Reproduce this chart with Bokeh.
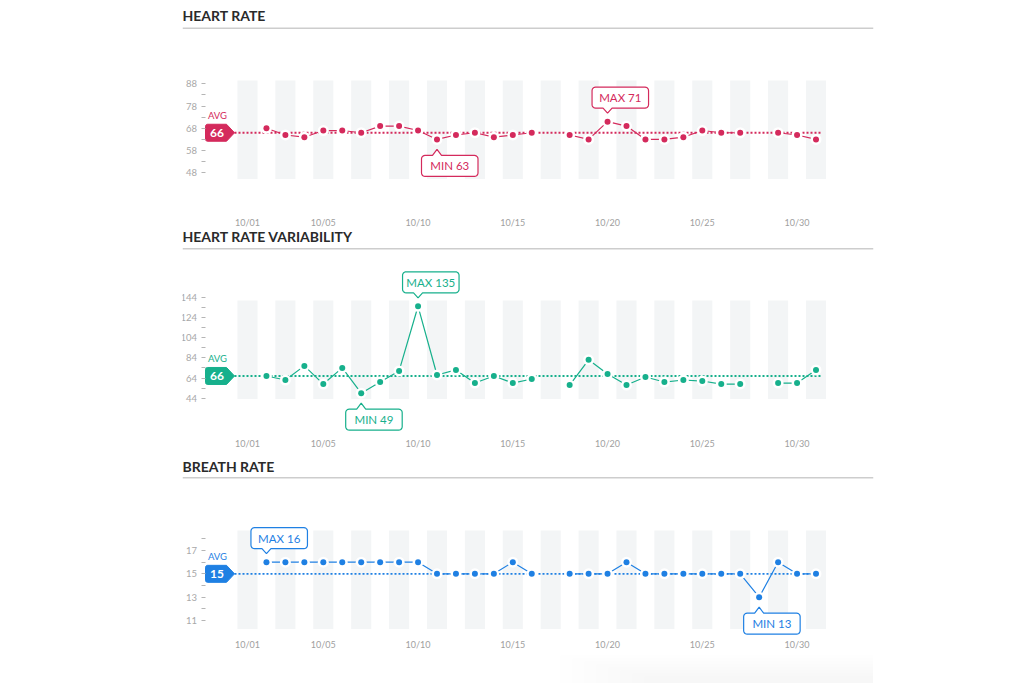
import numpy as np
from bokeh.plotting import figure
from bokeh.layouts import column
from bokeh.models import FixedTicker, Span
from bokeh.core.properties import value
from bokeh.embed import file_html
from bokeh.resources import INLINE

nan = float("nan")

# ---------------- data ----------------
days = list(range(1, 32))
date_ticks = [1, 5, 10, 15, 20, 25, 30]
date_tick_labels = ["10/01", "10/05", "10/10", "10/15", "10/20", "10/25", "10/30"]

heart_rate = [nan, 68, 65, 64, 67, 67, 66, 69, 69, 67, 63, 65, 66, 64, 65, 66,
              nan, 65, 63, 71, 69, 63, 63, 64, 67, 66, 66, nan, 66, 65, 63]
heart_rate_avg = 66
hr_ticks = [48, 58, 68, 78, 88]
hr_minor_ticks = [53, 63, 73, 83]

hrv = [nan, 66, 62, 76, 58, 74, 49, 60, 71, 135, 67, 72, 59, 66, 59, 63,
       nan, 57, 82, 68, 57, 65, 60, 62, 61, 58, 58, nan, 59, 59, 72]
hrv_avg = 66
hrv_ticks = [44, 64, 84, 104, 124, 144]
hrv_minor_ticks = [54, 74, 94, 114, 134]

breath_rate = [nan, 16, 16, 16, 16, 16, 16, 16, 16, 16, 15, 15, 15, 15, 16, 15,
               nan, 15, 15, 15, 16, 15, 15, 15, 15, 15, 15, 13, 16, 15, 15]
breath_rate_avg = 15
br_ticks = [11, 13, 15, 17]
br_minor_ticks = [12, 14, 16, 18]

stripe_days = days[::2]

# ---------------- layout constants (pixels) ----------------
FIG_W = 1024
FRAME_L, FRAME_R = 182, 873
DAY1_PX = 247.0
PX_PER_DAY = 18.95
FONT = "Lato"


def xd(px):
    return 1 + (px - DAY1_PX) / PX_PER_DAY


def day_px(d):
    return DAY1_PX + (d - 1) * PX_PER_DAY


def rounded_poly(left, right, top, bottom, r, pointer=None, rl=True, rr=True):
    pts = []

    def arc(cx, cy, a0, a1, rad):
        for t in np.linspace(a0, a1, 6):
            pts.append((cx + rad * np.cos(t), cy + rad * np.sin(t)))

    if rl:
        arc(left + r, top + r, np.pi, 1.5 * np.pi, r)
    else:
        pts.append((left, top))
    if pointer and pointer[0] == "top":
        _, px, hw, tip = pointer
        pts += [(px - hw, top), (px, tip), (px + hw, top)]
    if rr:
        arc(right - r, top + r, 1.5 * np.pi, 2 * np.pi, r)
        arc(right - r, bottom - r, 0, 0.5 * np.pi, r)
    else:
        pts.append((right, top))
        pts.append((right, bottom))
    if pointer and pointer[0] == "bottom":
        _, px, hw, tip = pointer
        pts += [(px + hw, bottom), (px, tip), (px - hw, bottom)]
    if rl:
        arc(left + r, bottom - r, 0.5 * np.pi, np.pi, r)
    else:
        pts.append((left, bottom))
    return pts


def make_panel(title, vals, avg, color, majors, minors, top, height,
               ref_val, ref_px, ppu, title_px, rule_px, stripe_top, label_px,
               shadow=False):
    def yv(py):
        return ref_val - (py - ref_px) / ppu

    def ypx(v):
        return ref_px + (ref_val - v) * ppu

    p = figure(width=FIG_W, height=height,
               x_range=(xd(FRAME_L), xd(FRAME_R)),
               y_range=(yv(top + height), yv(top)),
               output_backend="svg", toolbar_location=None, title=None,
               min_border_left=FRAME_L, min_border_right=FIG_W - FRAME_R,
               min_border_top=0, min_border_bottom=0)
    p.outline_line_color = None
    p.xgrid.grid_line_color = None
    p.ygrid.grid_line_color = None
    p.background_fill_color = "white"
    p.border_fill_color = "white"

    # faint shadow at the bottom of the page
    if shadow:
        for i in range(8):
            p.quad(left=[xd(560 + i * 12)], right=[xd(FRAME_R)],
                   top=[yv(655 + i * 3)], bottom=[yv(top + height)],
                   fill_color="#808080", fill_alpha=0.008, line_color=None)

    # title + rule
    p.text(x=[xd(FRAME_L)], y=[yv(title_px)], text=[title],
           text_font=value(FONT), text_font_style="bold", text_font_size="14px",
           text_color="#2a2a2a", text_baseline="middle", text_align="left")
    p.add_layout(Span(location=yv(rule_px), dimension="width",
                      line_color="#cdcdcd", line_width=1.5))

    # stripes
    p.quad(left=[d - 0.53 for d in stripe_days], right=[d + 0.53 for d in stripe_days],
           bottom=yv(stripe_top + 98.5), top=yv(stripe_top),
           fill_color="#f3f5f6", line_color=None)

    # avg dotted line
    avg_py = ypx(avg)
    p.line(x=[xd(234), 31.25], y=[avg, avg], line_color=color, line_width=1.8,
           line_dash="2 2")

    # series
    p.line(x=days, y=vals, line_color=color, line_width=1.2)
    p.scatter(x=days, y=vals, size=11, fill_color="white", line_color=None)
    p.scatter(x=days, y=vals, size=6, fill_color=color, line_color=None)

    # avg badge
    badge = rounded_poly(205, 226, avg_py - 8.5, avg_py + 8.5, 2, rr=False)
    bx, by = [], []
    for (x_, y_) in badge:
        bx.append(x_)
        by.append(y_)
        if abs(x_ - 226) < 1e-9 and abs(y_ - (avg_py - 8.5)) < 1e-9:
            bx.append(234)
            by.append(avg_py)
    p.patch(x=[xd(v) for v in bx], y=[yv(v) for v in by], fill_color=color,
            line_color=color, line_width=1)
    p.text(x=[xd(216.5)], y=[avg], text=[str(avg)], text_font=value(FONT),
           text_font_style="bold", text_font_size="12px", text_color="white",
           text_baseline="middle", text_align="center")
    p.text(x=[xd(217)], y=[yv(avg_py - 17)], text=["AVG"], text_font=value(FONT),
           text_font_size="9.5px", text_color=color, text_baseline="middle",
           text_align="center")

    # callouts
    arr = np.array(vals, dtype=float)
    for kind, idx in (("MAX", int(np.nanargmax(arr))), ("MIN", int(np.nanargmin(arr)))):
        v = arr[idx]
        px = day_px(days[idx])
        py = ypx(v)
        left, right = px - 15.5, px + 41
        if kind == "MAX":
            t, b = py - 34.5, py - 13.5
            poly = rounded_poly(left, right, t, b, 3.5, pointer=("bottom", px, 4.5, py - 8.5))
        else:
            t, b = py + 16, py + 37
            poly = rounded_poly(left, right, t, b, 3.5, pointer=("top", px, 4.5, py + 10))
        p.patch(x=[xd(q[0]) for q in poly], y=[yv(q[1]) for q in poly],
                fill_color="white", line_color=color, line_width=1.2)
        p.text(x=[xd((left + right) / 2)], y=[yv((t + b) / 2)],
               text=[f"{kind} {int(v)}"], text_font=value(FONT),
               text_font_size="11.5px", text_color=color,
               text_baseline="middle", text_align="center")

    # y axis
    ya = p.yaxis[0]
    ya.ticker = FixedTicker(ticks=majors, minor_ticks=minors)
    ya.fixed_location = xd(204.5)
    ya.axis_line_color = None
    ya.major_tick_out = 4
    ya.major_tick_in = 0
    ya.minor_tick_out = 4
    ya.minor_tick_in = 0
    ya.major_tick_line_color = "#b5b5b5"
    ya.minor_tick_line_color = "#b5b5b5"
    ya.major_label_standoff = 4
    ya.major_label_text_font = FONT
    ya.major_label_text_font_size = "9.5px"
    ya.major_label_text_color = "#a8a8a8"

    # x axis
    xa = p.xaxis[0]
    xa.ticker = FixedTicker(ticks=date_ticks)
    xa.major_label_overrides = {t: l for t, l in zip(date_ticks, date_tick_labels)}
    xa.fixed_location = yv(label_px - 5)
    xa.axis_line_color = None
    xa.major_tick_line_color = None
    xa.minor_tick_line_color = None
    xa.major_tick_out = 0
    xa.major_tick_in = 0
    xa.major_label_standoff = 0
    xa.major_label_text_font = FONT
    xa.major_label_text_font_size = "9px"
    xa.major_label_text_color = "#a0a0a0"
    return p


hr_color = "#d42a5c"
hrv_color = "#17b08c"
br_color = "#1f80e3"

p1 = make_panel("HEART RATE", heart_rate, heart_rate_avg, hr_color, hr_ticks, hr_minor_ticks,
                top=0, height=229, ref_val=88, ref_px=83.3, ppu=2.225,
                title_px=15, rule_px=27.7, stripe_top=80, label_px=221.5)
p2 = make_panel("HEART RATE VARIABILITY", hrv, hrv_avg, hrv_color, hrv_ticks, hrv_minor_ticks,
                top=229, height=226, ref_val=144, ref_px=296.7, ppu=1.01,
                title_px=236, rule_px=248.3, stripe_top=300, label_px=442)
p3 = make_panel("BREATH RATE", breath_rate, breath_rate_avg, br_color, br_ticks, br_minor_ticks,
                top=455, height=228, ref_val=17, ref_px=550, ppu=11.667,
                title_px=466, rule_px=477.3, stripe_top=530, label_px=643,
                shadow=True)

layout = column(p1, p2, p3, spacing=0)
open("out.html", "w").write(file_html(layout, INLINE))
